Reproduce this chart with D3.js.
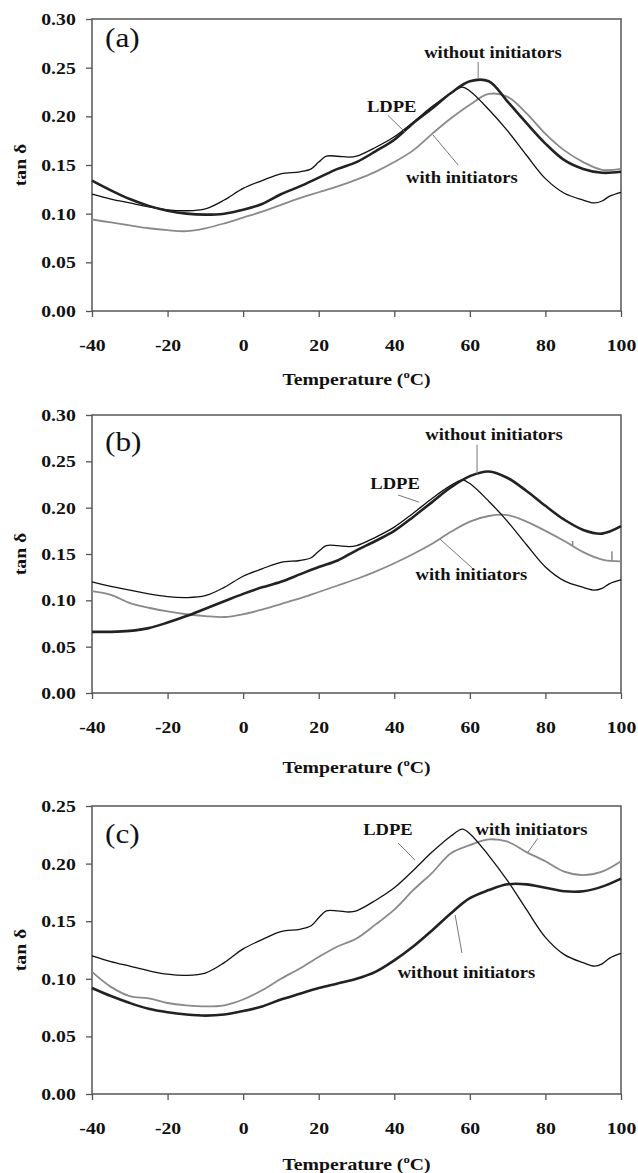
<!DOCTYPE html>
<html>
<head>
<meta charset="utf-8">
<script src="https://cdn.jsdelivr.net/npm/d3@7"></script>
<style>
  body { margin: 0; background: #fff; }
  svg { display: block; }
</style>
</head>
<body>
<div id="chart"></div>
<script>
// temperature grid (°C) shared by the modified samples
var gridT = [-40,-35,-30,-25,-20,-15,-10,-5,0,5,10,15,20,25,30,35,40,45,50,55,60,65,70,75,80,85,90,95,100];

// LDPE reference curve (same in all three panels)
var ldpeT   = [-40,-35,-30,-25,-20,-15,-10,-5,0,5,10,15,18,20,22,25,28,30,35,40,45,50,55,58,60,65,70,75,80,85,90,93,95,97,100];
var ldpeTan = [0.120,0.115,0.111,0.107,0.104,0.103,0.105,0.114,0.126,0.134,0.141,0.143,0.146,0.153,0.159,0.159,0.158,0.159,0.168,0.179,0.194,0.210,0.224,0.230,0.226,0.207,0.185,0.160,0.136,0.121,0.114,0.111,0.113,0.118,0.122];

// panel (a)
var aWithout = [0.134,0.124,0.115,0.108,0.103,0.100,0.099,0.100,0.104,0.110,0.120,0.128,0.137,0.146,0.153,0.164,0.176,0.193,0.208,0.224,0.236,0.236,0.215,0.193,0.172,0.155,0.146,0.142,0.143];
var aWith    = [0.094,0.091,0.088,0.085,0.083,0.082,0.085,0.090,0.096,0.102,0.109,0.116,0.122,0.128,0.135,0.143,0.153,0.165,0.182,0.198,0.212,0.223,0.220,0.203,0.182,0.165,0.153,0.145,0.146];

// panel (b)
var bWithout = [0.066,0.066,0.067,0.070,0.076,0.083,0.091,0.099,0.107,0.114,0.120,0.128,0.136,0.143,0.154,0.164,0.175,0.190,0.206,0.222,0.234,0.239,0.232,0.218,0.202,0.187,0.176,0.172,0.180];
var bWith    = [0.110,0.106,0.097,0.092,0.088,0.085,0.083,0.082,0.085,0.090,0.096,0.102,0.109,0.116,0.123,0.131,0.140,0.150,0.161,0.174,0.185,0.191,0.192,0.185,0.175,0.164,0.152,0.144,0.142];
// two short glitches on the "with initiators" trace of (b)
var bSpikeT    = [87.2, 97.6];
var bSpikeBase = [0.159, 0.143];
var bSpikeTop  = [0.164, 0.153];

// panel (c)
var cWithout = [0.092,0.085,0.079,0.074,0.071,0.069,0.068,0.069,0.072,0.076,0.082,0.087,0.092,0.096,0.100,0.106,0.116,0.128,0.142,0.157,0.170,0.177,0.182,0.182,0.179,0.176,0.176,0.180,0.187];
var cWith    = [0.106,0.093,0.085,0.083,0.079,0.077,0.076,0.077,0.082,0.090,0.100,0.109,0.119,0.128,0.135,0.147,0.160,0.177,0.192,0.209,0.216,0.221,0.219,0.210,0.202,0.193,0.190,0.193,0.202];

var xTicks = [-40,-20,0,20,40,60,80,100];
var yTicks30 = [0,0.05,0.10,0.15,0.20,0.25,0.30];
var yTicks25 = [0,0.05,0.10,0.15,0.20,0.25];

var width = 638, height = 1173;
var serif = "'Liberation Serif','Times New Roman',serif";
var stretch = 1.16;

var svg = d3.select("#chart").append("svg")
    .attr("width", width)
    .attr("height", height)
    .style("background", "#fff");

function zip(xs, ys) {
    return xs.map(function(x, i) { return {t: x, v: ys[i]}; });
}

function stretchText(g, str, x, y, size, weight, anchor) {
    return g.append("text")
        .attr("transform", "translate(" + x + "," + y + ") scale(" + stretch + ",1)")
        .attr("text-anchor", anchor || "middle")
        .attr("font-family", serif)
        .attr("font-size", size)
        .attr("font-weight", weight || "bold")
        .attr("fill", "#111")
        .text(str);
}

function drawPanel(cfg) {
    var left = 92, right = 621;
    var top = cfg.top, bottom = cfg.bottom;
    var g = svg.append("g");

    var xScale = d3.scaleLinear().domain([-40, 100]).range([left, right]);
    var yScale = d3.scaleLinear().domain([0, cfg.yMax]).range([bottom, top]);

    // y axis
    var yAxis = g.append("g")
        .attr("transform", "translate(" + left + ",0)")
        .call(d3.axisLeft(yScale).tickValues(cfg.yTicks).tickFormat(d3.format(".2f")).tickSize(6).tickPadding(8));
    // x axis (plain hyphen for negatives, as in the figure)
    var xAxis = g.append("g")
        .attr("transform", "translate(0," + bottom + ")")
        .call(d3.axisBottom(xScale).tickValues(xTicks).tickFormat(function(d) { return String(d); }).tickSize(6).tickPadding(22));
    [yAxis, xAxis].forEach(function(ax) {
        ax.select(".domain").remove();
        ax.selectAll(".tick line").attr("stroke", "#555").attr("stroke-width", 1.3);
        ax.selectAll(".tick text")
            .attr("font-family", serif)
            .attr("font-size", 17)
            .attr("font-weight", "bold")
            .attr("fill", "#111")
            .attr("transform", "scale(" + stretch + ",1)");
    });

    // frame
    g.append("rect")
        .attr("x", left).attr("y", top)
        .attr("width", right - left).attr("height", bottom - top)
        .attr("fill", "none")
        .attr("stroke", "#555")
        .attr("stroke-width", 1.5);

    var line = d3.line()
        .x(function(d) { return xScale(d.t); })
        .y(function(d) { return yScale(d.v); })
        .curve(d3.curveCatmullRom.alpha(0.5));

    var dataGroup = g.append("g");
    dataGroup.append("path")
        .attr("d", line(zip(gridT, cfg.withInit)))
        .attr("fill", "none")
        .attr("stroke", "#8a8a8a")
        .attr("stroke-width", 1.8);
    if (cfg.spikes) {
        dataGroup.selectAll("line.spike").data(cfg.spikes.t)
            .enter()
            .append("line")
            .attr("class", "spike")
            .attr("x1", function(d) { return xScale(d); })
            .attr("x2", function(d) { return xScale(d); })
            .attr("y1", function(d, i) { return yScale(cfg.spikes.base[i]); })
            .attr("y2", function(d, i) { return yScale(cfg.spikes.top[i]); })
            .attr("stroke", "#8a8a8a")
            .attr("stroke-width", 1.5);
    }
    dataGroup.append("path")
        .attr("d", line(zip(ldpeT, ldpeTan)))
        .attr("fill", "none")
        .attr("stroke", "#111")
        .attr("stroke-width", 1.3);
    dataGroup.append("path")
        .attr("d", line(zip(gridT, cfg.without)))
        .attr("fill", "none")
        .attr("stroke", "#222")
        .attr("stroke-width", 2.6);

    // leaders and labels (given in data units)
    cfg.notes.forEach(function(n) {
        g.append("line")
            .attr("x1", xScale(n.from[0])).attr("y1", yScale(n.from[1]))
            .attr("x2", xScale(n.to[0])).attr("y2", yScale(n.to[1]))
            .attr("stroke", "#777")
            .attr("stroke-width", 1);
        stretchText(g, n.label, xScale(n.at[0]), yScale(n.at[1]), 16, "bold");
    });

    // panel letter
    stretchText(g, cfg.letter, left + 13, top + cfg.letterDy, 27, "normal", "start");

    // axis titles
    var tx = stretchText(g, "", (left + right) / 2, bottom + cfg.titleDy, 17, "bold");
    tx.append("tspan").text("Temperature (");
    tx.append("tspan").attr("font-size", 11).attr("dy", -7).text("o");
    tx.append("tspan").attr("dy", 7).text("C)");

    g.append("text")
        .attr("transform", "translate(26," + ((top + bottom) / 2) + ") rotate(-90) scale(" + stretch + ",1)")
        .attr("text-anchor", "middle")
        .attr("font-family", serif)
        .attr("font-size", 17)
        .attr("font-weight", "bold")
        .attr("fill", "#111")
        .text("tan \u03b4");
}

drawPanel({
    top: 19, bottom: 311, yMax: 0.30, yTicks: yTicks30,
    without: aWithout, withInit: aWith, letter: "(a)", letterDy: 28, titleDy: 74,
    notes: [
        {label: "without initiators", at: [66.1, 0.260], from: [62.2, 0.256], to: [62.2, 0.239]},
        {label: "LDPE", at: [39.3, 0.2045], from: [38.3, 0.201], to: [42.8, 0.184]},
        {label: "with initiators", at: [57.9, 0.1315], from: [56.9, 0.150], to: [50.2, 0.181]}
    ]
});
drawPanel({
    top: 415, bottom: 693, yMax: 0.30, yTicks: yTicks30,
    without: bWithout, withInit: bWith, letter: "(b)", letterDy: 36, titleDy: 80,
    spikes: {t: bSpikeT, base: bSpikeBase, top: bSpikeTop},
    notes: [
        {label: "without initiators", at: [66.4, 0.273], from: [61.9, 0.268], to: [61.9, 0.236]},
        {label: "LDPE", at: [40.2, 0.220], from: [41.0, 0.2137], to: [46.5, 0.206]},
        {label: "with initiators", at: [60.4, 0.122], from: [60.6, 0.135], to: [52.1, 0.166]}
    ]
});
drawPanel({
    top: 806, bottom: 1094, yMax: 0.25, yTicks: yTicks25,
    without: cWithout, withInit: cWith, letter: "(c)", letterDy: 37, titleDy: 76,
    notes: [
        {label: "LDPE", at: [38.3, 0.2248], from: [41.0, 0.2179], to: [45.5, 0.203]},
        {label: "with initiators", at: [76.3, 0.2248], from: [78.0, 0.222], to: [75.4, 0.210]},
        {label: "without initiators", at: [59.1, 0.1007], from: [57.9, 0.1224], to: [56.1, 0.1554]}
    ]
});
</script>
</body>
</html>
